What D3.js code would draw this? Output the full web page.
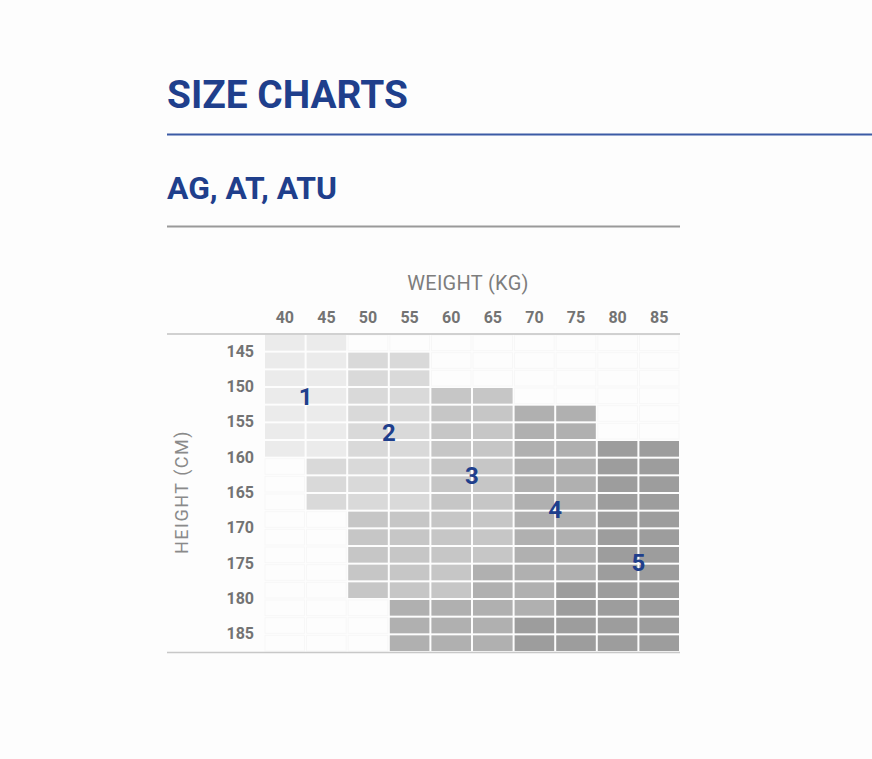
<!DOCTYPE html>
<html><head><meta charset="utf-8">
<script src="https://cdn.jsdelivr.net/npm/d3@7"></script>
<style>
html,body{margin:0;padding:0;background:#fdfdfd;}
svg{display:block;}
text{font-family:Roboto,"DejaVu Sans",sans-serif;}
</style></head>
<body>
<script>
// ---- data ----
const weights = [40, 45, 50, 55, 60, 65, 70, 75, 80, 85];
const heights = [145, 150, 155, 160, 165, 170, 175, 180, 185];
// each height band is split in two sub-rows; one string per sub-row, one char per weight column
const zoneRows = [
  "11........",
  "1122......",
  "1122......",
  "112233....",
  "11223344..",
  "11223344..",
  "1122334455",
  ".222334455",
  ".222334455",
  ".222334455",
  "..33334455",
  "..33334455",
  "..33334455",
  "..33344455",
  "..33344555",
  "...4444555",
  "...4445555",
  "...4445555"
];
const zones = ["1", "2", "3", "4", "5"];
const zoneColors = ["#ebebeb", "#d9d9d9", "#c6c6c6", "#b0b0b0", "#9d9d9d"];
const zoneLabelWeight = [42.5, 52.5, 62.5, 72.5, 82.5];
const zoneLabelHeight = [151.3, 156.4, 162.6, 167.3, 174.9];
const title = "SIZE CHARTS";
const subtitle = "AG, AT, ATU";
const xTitle = "WEIGHT (KG)";
const yTitle = "HEIGHT (CM)";

// ---- drawing ----
const W = 872, H = 759;
const svg = d3.select("body").append("svg").attr("width", W).attr("height", H);
svg.append("rect").attr("width", W).attr("height", H).attr("fill", "#fdfdfd");

const gridLeft = 264, gridRight = 680, gridTop = 334, gridBottom = 652;
const blue = "#1f3f8c";

const x = d3.scaleBand().domain(weights).range([gridLeft, gridRight]).padding(0);
const yH = d3.scaleBand().domain(heights).range([gridTop, gridBottom]).padding(0);
const yRow = d3.scaleBand().domain(d3.range(zoneRows.length)).range([gridTop, gridBottom]).padding(0);
const xLin = d3.scaleLinear().domain([37.5, 87.5]).range([gridLeft, gridRight]);
const yLin = d3.scaleLinear().domain([142.5, 187.5]).range([gridTop, gridBottom]);
const color = d3.scaleOrdinal().domain(zones).range(zoneColors);

// titles
svg.append("text").attr("x", 167).attr("y", 108)
  .attr("font-size", 38).attr("font-weight", 700).attr("fill", blue)
  .attr("textLength", 241).attr("lengthAdjust", "spacingAndGlyphs").text(title);
svg.append("line").attr("x1", 167).attr("x2", W).attr("y1", 134.5).attr("y2", 134.5)
  .attr("stroke", "#3b5ba5").attr("stroke-width", 2);
svg.append("text").attr("x", 167).attr("y", 199)
  .attr("font-size", 32).attr("font-weight", 700).attr("fill", blue)
  .attr("textLength", 170).attr("lengthAdjust", "spacingAndGlyphs").text(subtitle);
svg.append("line").attr("x1", 167).attr("x2", gridRight).attr("y1", 226.5).attr("y2", 226.5)
  .attr("stroke", "#9a9a9a").attr("stroke-width", 2);

// cells
const cells = [];
zoneRows.forEach((row, r) => {
  weights.forEach((w, c) => cells.push({ r, w, z: row[c] }));
});
const g = svg.append("g");
// faint empty grid
g.selectAll("rect.empty").data(cells.filter(d => d.z === ".")).join("rect")
  .attr("class", "empty")
  .attr("x", d => x(d.w) + 1).attr("y", d => yRow(d.r) + 1)
  .attr("width", x.bandwidth() - 2).attr("height", yRow.bandwidth() - 2)
  .attr("fill", "#fdfdfd").attr("stroke", "#f7f7f7").attr("stroke-width", 1);
g.selectAll("rect.cell").data(cells.filter(d => d.z !== ".")).join("rect")
  .attr("class", "cell")
  .attr("x", d => x(d.w) + 1).attr("y", d => yRow(d.r) + 1)
  .attr("width", x.bandwidth() - 2).attr("height", yRow.bandwidth() - 2)
  .attr("fill", d => color(d.z));

// frame lines
svg.append("line").attr("x1", 167).attr("x2", gridRight).attr("y1", gridTop).attr("y2", gridTop)
  .attr("stroke", "#c2c2c2").attr("stroke-width", 1.5);
svg.append("line").attr("x1", 167).attr("x2", gridRight).attr("y1", gridBottom + 0.5).attr("y2", gridBottom + 0.5)
  .attr("stroke", "#c8c8c8").attr("stroke-width", 1.5);

// weight axis
const xAxis = svg.append("g").attr("transform", `translate(0,${gridTop - 11})`)
  .call(d3.axisTop(x).tickSize(0).tickPadding(0));
xAxis.select(".domain").remove();
xAxis.selectAll("text").attr("font-size", 16).attr("font-weight", 700)
  .attr("fill", "#737373").attr("font-family", "Roboto, sans-serif");

// height axis
const yAxis = svg.append("g").attr("transform", `translate(${gridLeft - 10},0)`)
  .call(d3.axisLeft(yH).tickSize(0).tickPadding(0));
yAxis.select(".domain").remove();
yAxis.selectAll("text").attr("font-size", 16).attr("font-weight", 700)
  .attr("fill", "#737373").attr("font-family", "Roboto, sans-serif");

// axis titles
svg.append("text").attr("x", 468).attr("y", 290).attr("text-anchor", "middle")
  .attr("font-size", 20).attr("fill", "#7d7d7d").attr("letter-spacing", 0.3).text(xTitle);
svg.append("text").attr("transform", `translate(188,${492}) rotate(-90)`)
  .attr("text-anchor", "middle").attr("font-size", 18).attr("fill", "#8a8a8a")
  .attr("letter-spacing", 1.5).text(yTitle);

// zone labels
svg.append("g").selectAll("text").data(zones).join("text")
  .attr("x", (d, i) => xLin(zoneLabelWeight[i]))
  .attr("y", (d, i) => yLin(zoneLabelHeight[i]))
  .attr("dy", "0.35em").attr("text-anchor", "middle")
  .attr("font-size", 24).attr("font-weight", 700).attr("fill", blue)
  .text(d => d);
</script>
</body></html>
